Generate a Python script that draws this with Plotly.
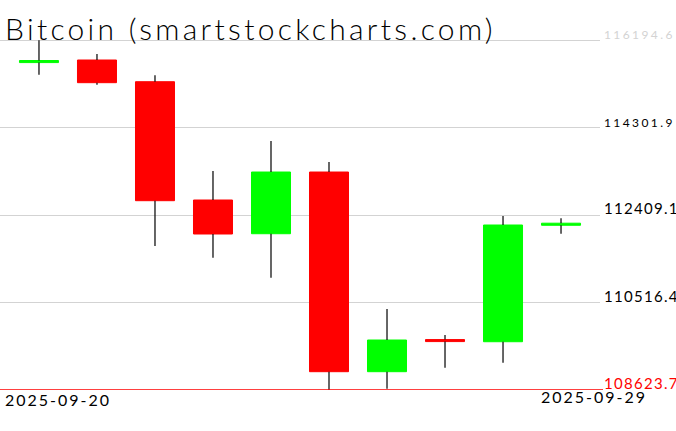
import plotly.graph_objects as go

# daily candles
dates = ['2025-09-20', '2025-09-21', '2025-09-22', '2025-09-23', '2025-09-24',
         '2025-09-25', '2025-09-26', '2025-09-27', '2025-09-28', '2025-09-29']
open_ = [115712, 115768, 115298, 112737, 112007, 113343, 109020, 109715, 109669, 112190]
high = [116194.6, 115898, 115437, 113365, 114014, 113560, 110377, 109814, 112391, 112341]
low = [115450, 115233, 111741, 111488, 111055, 108623.7, 108650, 109107, 109215, 112007]
close = [115757, 115277, 112722, 112001, 113343, 109020, 109706, 109672, 112196, 112235]

price_labels = ['116194.6', '114301.9', '112409.1', '110516.4', '108623.7']
label_colors = ['#d3d3d3', 'black', 'black', 'black', 'red']
label_sizes = [12, 12, 15, 15, 15]
label_spacing = [2.4, 2.4, 1.3, 1.3, 1.3]

title = 'Bitcoin (smartstockcharts.com)'
font = 'Lato'

up_color = '#00ff00'
down_color = '#ff0000'
grid_color = '#d3d3d3'

plot_w, plot_h = 600, 390
lo, hi = min(low), max(high)
per_px = (hi - lo) / 349.7
y_top = lo + per_px * plot_h

colors = [up_color if c >= o else down_color for o, c in zip(open_, close)]
body_lo = [min(o, c) for o, c in zip(open_, close)]
body_hi = [max(o, c) for o, c in zip(open_, close)]

# wick segments above and below each body
wx, wy = [], []
for d, h, l, b, t in zip(dates, high, low, body_lo, body_hi):
    wx += [d, d, None, d, d, None]
    wy += [h, t, None, b, l, None]


def spaced(text, px):
    return '<span style="letter-spacing:%spx">%s</span>' % (px, text)


fig = go.Figure()
fig.add_trace(go.Bar(
    x=dates,
    base=body_lo,
    y=[t - b for b, t in zip(body_lo, body_hi)],
    width=39 / 58,
    marker=dict(color=colors, line=dict(color=colors, width=1)),
    hoverinfo='skip',
))
fig.add_trace(go.Scatter(
    x=wx, y=wy, mode='lines',
    line=dict(color='black', width=1.2),
    hoverinfo='skip',
))

annotations = [dict(
    text=spaced(title, 3.3), xref='paper', yref='paper', x=3 / plot_w, y=1 - 8 / plot_h,
    xanchor='left', yanchor='top', showarrow=False,
    font=dict(family=font, size=30, color='black', weight=300),
)]
for lab, col, sz, sp in zip(price_labels, label_colors, label_sizes, label_spacing):
    annotations.append(dict(
        text=spaced(lab, sp), xref='paper', yref='y', x=1, y=float(lab),
        xanchor='left', yanchor='bottom', xshift=2, yshift=-4,
        showarrow=False, font=dict(family=font, size=sz, color=col),
    ))
annotations.append(dict(
    text=spaced(dates[0], 2.0), xref='paper', yref='paper', x=3 / plot_w, y=1 - 400 / plot_h,
    xanchor='left', yanchor='middle', showarrow=False,
    font=dict(family=font, size=16, color='black'),
))
annotations.append(dict(
    text=spaced(dates[-1], 2.0), xref='paper', yref='paper', x=594 / plot_w, y=1 - 396 / plot_h,
    xanchor='center', yanchor='middle', showarrow=False,
    font=dict(family=font, size=16, color='black'),
))

fig.update_layout(
    width=676, height=431,
    margin=dict(l=0, r=76, t=0, b=41),
    paper_bgcolor='white', plot_bgcolor='white',
    showlegend=False,
    xaxis=dict(type='category', range=[-0.672, 9.672], showticklabels=False,
               showgrid=False, zeroline=False, showline=False, fixedrange=True),
    yaxis=dict(range=[lo, y_top], tickvals=[float(v) for v in price_labels],
               showticklabels=False, gridcolor=grid_color, gridwidth=1,
               zeroline=False, showline=False, fixedrange=True),
    annotations=annotations,
    shapes=[dict(type='line', xref='paper', yref='y', x0=0, x1=1.005, y0=lo, y1=lo,
                 line=dict(color='red', width=1.5))],
)

# drop the page's default body margin so the figure sits at the window origin
fig.write_html('out.html', config={'displayModeBar': False},
               post_script="document.body.style.margin='0';")
